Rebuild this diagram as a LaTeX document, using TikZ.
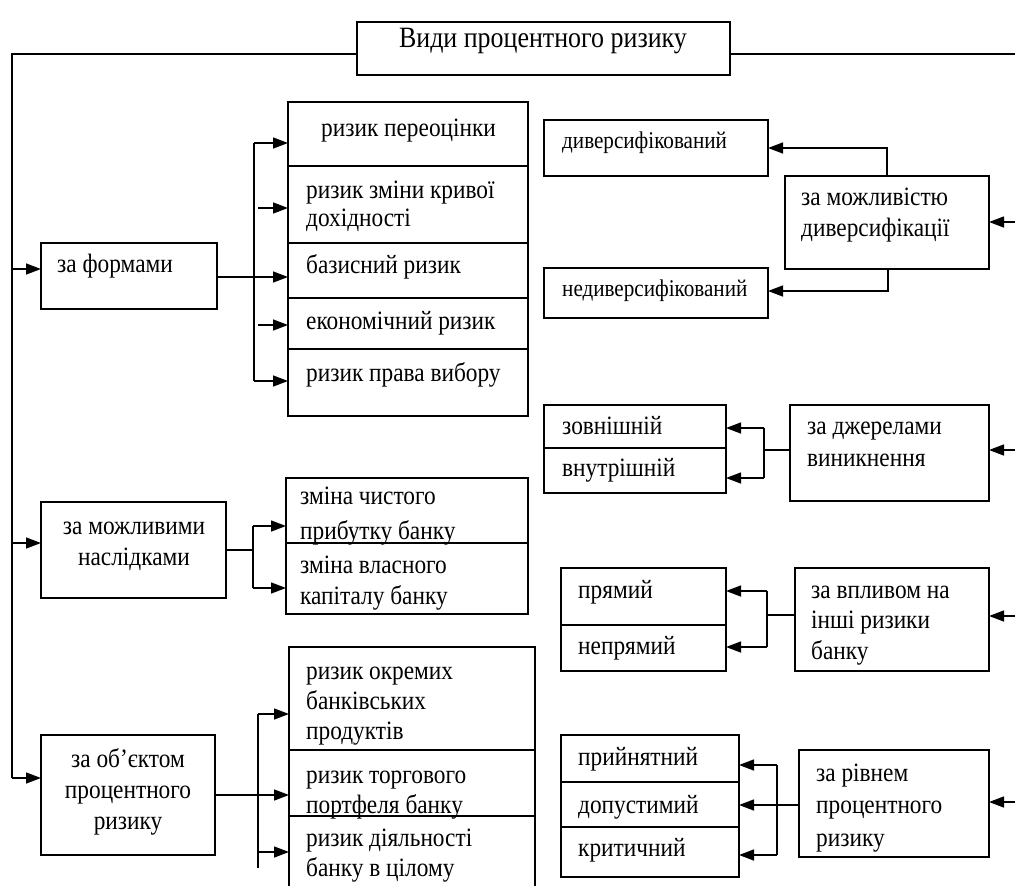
\documentclass[tikz,border=0pt]{standalone}
\usepackage{fontspec}
\setmainfont{Liberation Serif}[FakeStretch=0.88]
\usetikzlibrary{arrows.meta}
\tikzset{
  box/.style={draw, line width=1.8pt, inner sep=0pt, outer sep=0pt, anchor=north west},
  txt/.style={inner sep=0pt, font=\fontsize{26.5}{30}\selectfont, anchor=base west},
  stxt/.style={txt, font=\fontsize{24}{28}\selectfont},
  ctxt/.style={txt, anchor=base},
  ttxt/.style={txt, anchor=base, font=\fontsize{29.5}{33}\selectfont},
  arr/.style={line width=1.4pt, -{Triangle[length=15pt,width=11pt]}},
  ln/.style={line width=1.4pt},
}
\newcommand\bx[5]{\node[box, minimum width=\the\numexpr #4-#2\relax pt, minimum height=\the\numexpr #5-#3\relax pt] (#1) at (#2,#3) {};}
\begin{document}
\begin{tikzpicture}[x=1pt,y=-1pt]
\useasboundingbox (0,0) rectangle (1015,886);
% boxes
\bx{title}{357}{22}{730}{75}
\bx{forms}{41}{243}{217}{309}
\bx{cons}{41}{502}{226}{598}
\bx{obj}{41}{735}{215}{855}
\bx{a1}{288}{102}{528}{166}
\bx{a2}{288}{166}{528}{243}
\bx{a3}{288}{243}{528}{298}
\bx{a4}{288}{298}{528}{349}
\bx{a5}{288}{349}{528}{416}
\bx{b1}{286}{478}{528}{543}
\bx{b2}{286}{543}{528}{614}
\bx{c1}{289}{647}{535}{750}
\bx{c2}{289}{750}{535}{816}
\bx{c3}{289}{816}{535}{900}
\bx{d1}{544}{120}{768}{176}
\bx{d2}{544}{268}{768}{318}
\bx{div}{785}{176}{989}{269}
\bx{s1}{544}{405}{726}{448}
\bx{s2}{544}{448}{726}{493}
\bx{src}{790}{405}{989}{501}
\bx{i1}{561}{568}{726}{625}
\bx{i2}{561}{625}{726}{671}
\bx{infl}{795}{568}{989}{671}
\bx{l1}{561}{735}{739}{782}
\bx{l2}{561}{782}{739}{827}
\bx{l3}{561}{827}{739}{877}
\bx{lvl}{799}{750}{989}{857}
% texts
\node[ttxt] (title-t) at (543,47) {Види процентного ризику};
\node[txt] (forms-t) at (57,272) {за формами};
\node[ctxt] (cons-t1) at (134,534) {за можливими};
\node[ctxt] (cons-t2) at (134,565) {наслідками};
\node[ctxt] (obj-t1) at (128,767) {за об’єктом};
\node[ctxt] (obj-t2) at (128,798) {процентного};
\node[ctxt] (obj-t3) at (128,829) {ризику};
\node[txt] (a1-t) at (321,136) {ризик переоцінки};
\node[txt] (a2-t1) at (306,198) {ризик зміни кривої};
\node[txt] (a2-t2) at (306,226) {дохідності};
\node[txt] (a3-t) at (306,273) {базисний ризик};
\node[txt] (a4-t) at (306,329) {економічний ризик};
\node[txt] (a5-t) at (306,381) {ризик права вибору};
\node[txt] (b1-t1) at (300,504) {зміна чистого};
\node[txt] (b1-t2) at (300,539) {прибутку банку};
\node[txt] (b2-t1) at (300,573) {зміна власного};
\node[txt] (b2-t2) at (300,604) {капіталу банку};
\node[txt] (c1-t1) at (306,679) {ризик окремих};
\node[txt] (c1-t2) at (306,709) {банківських};
\node[txt] (c1-t3) at (306,739) {продуктів};
\node[txt] (c2-t1) at (306,783) {ризик торгового};
\node[txt] (c2-t2) at (306,813) {портфеля банку};
\node[txt] (c3-t1) at (306,846) {ризик діяльності};
\node[txt] (c3-t2) at (306,876) {банку в цілому};
\node[stxt] (d1-t) at (562,148) {диверсифікований};
\node[stxt] (d2-t) at (562,296) {недиверсифікований};
\node[txt] (div-t1) at (801,205) {за можливістю};
\node[txt] (div-t2) at (801,236) {диверсифікації};
\node[txt] (s1-t) at (562,434) {зовнішній};
\node[txt] (s2-t) at (562,476) {внутрішній};
\node[txt] (src-t1) at (807,434) {за джерелами};
\node[txt] (src-t2) at (807,466) {виникнення};
\node[txt] (i1-t) at (578,598) {прямий};
\node[txt] (i2-t) at (578,654) {непрямий};
\node[txt] (infl-t1) at (811,598) {за впливом на};
\node[txt] (infl-t2) at (811,628) {інші ризики};
\node[txt] (infl-t3) at (811,659) {банку};
\node[txt] (l1-t) at (578,765) {прийнятний};
\node[txt] (l2-t) at (578,813) {допустимий};
\node[txt] (l3-t) at (578,856) {критичний};
\node[txt] (lvl-t1) at (816,781) {за рівнем};
\node[txt] (lvl-t2) at (816,813) {процентного};
\node[txt] (lvl-t3) at (816,846) {ризику};
% left trunk
\coordinate (Lt) at (12,54);
\coordinate (Lb) at (12,778);
\draw[ln] (title.west |- Lt) -- (Lt) -- (Lb);
\coordinate (tF) at (12,269);
\draw[arr] (tF) -- (tF -| forms.west);
\coordinate (tC) at (12,543);
\draw[arr] (tC) -- (tC -| cons.west);
\draw[arr] (Lb) -- (Lb -| obj.west);
% right trunk
\coordinate (Rt) at (1016,54);
\coordinate (Rb) at (1016,802);
\draw[ln] (title.east |- Rt) -- (Rt) -- (Rb);
\coordinate (rD) at (1016,222);
\draw[arr] (rD) -- (rD -| div.east);
\coordinate (rS) at (1016,450);
\draw[arr] (rS) -- (rS -| src.east);
\coordinate (rI) at (1016,616);
\draw[arr] (rI) -- (rI -| infl.east);
\draw[arr] (Rb) -- (Rb -| lvl.east);
% forms bracket
\coordinate (fA1) at (254,143);
\coordinate (fA5) at (254,381);
\draw[ln] (fA1) -- (fA5);
\draw[arr] (fA1) -- (fA1 -| a1.west);
\draw[arr] (fA5) -- (fA5 -| a5.west);
\coordinate (fA2) at (258,208);
\draw[arr] (fA2) -- (fA2 -| a2.west);
\coordinate (fA4) at (258,325);
\draw[arr] (fA4) -- (fA4 -| a4.west);
\coordinate (fo) at (0,277);
\draw[arr] (forms.east |- fo) -- (fo -| a3.west);
% consequences bracket
\coordinate (cB) at (253,550);
\draw[ln] (cons.east |- cB) -- (cB);
\coordinate (cB1) at (253,526);
\coordinate (cB2) at (253,588);
\draw[ln] (cB1) -- (cB2);
\draw[arr] (cB1) -- (cB1 -| b1.west);
\draw[arr] (cB2) -- (cB2 -| b2.west);
% object bracket
\coordinate (oC1) at (258,714);
\coordinate (oC3) at (258,852);
\coordinate (oCe) at (258,868);
\draw[ln] (oC1) -- (oCe);
\draw[arr] (oC1) -- (oC1 -| c1.west);
\draw[arr] (oC3) -- (oC3 -| c3.west);
\coordinate (oo) at (0,795);
\draw[arr] (obj.east |- oo) -- (oo -| c2.west);
% diversification
\coordinate (dv1) at (887,148);
\draw[arr] (div.north -| dv1) -- (dv1) -- (dv1 -| d1.east);
\coordinate (dv2) at (888,291);
\draw[arr] (div.south -| dv2) -- (dv2) -- (dv2 -| d2.east);
% sources
\coordinate (sv) at (764,450);
\draw[ln] (src.west |- sv) -- (sv);
\coordinate (sv1) at (764,428);
\coordinate (sv2) at (764,478);
\draw[ln] (sv1) -- (sv2);
\draw[arr] (sv1) -- (sv1 -| s1.east);
\draw[arr] (sv2) -- (sv2 -| s2.east);
% influence
\coordinate (iv) at (767,615);
\draw[ln] (infl.west |- iv) -- (iv);
\coordinate (iv1) at (767,591);
\coordinate (iv2) at (767,647);
\draw[ln] (iv1) -- (iv2);
\draw[arr] (iv1) -- (iv1 -| i1.east);
\draw[arr] (iv2) -- (iv2 -| i2.east);
% level
\coordinate (lv) at (0,805);
\draw[arr] (lvl.west |- lv) -- (lv -| l2.east);
\coordinate (lv1) at (777,765);
\coordinate (lv3) at (777,855);
\draw[ln] (lv1) -- (lv3);
\draw[arr] (lv1) -- (lv1 -| l1.east);
\draw[arr] (lv3) -- (lv3 -| l3.east);
\end{tikzpicture}
\end{document}
